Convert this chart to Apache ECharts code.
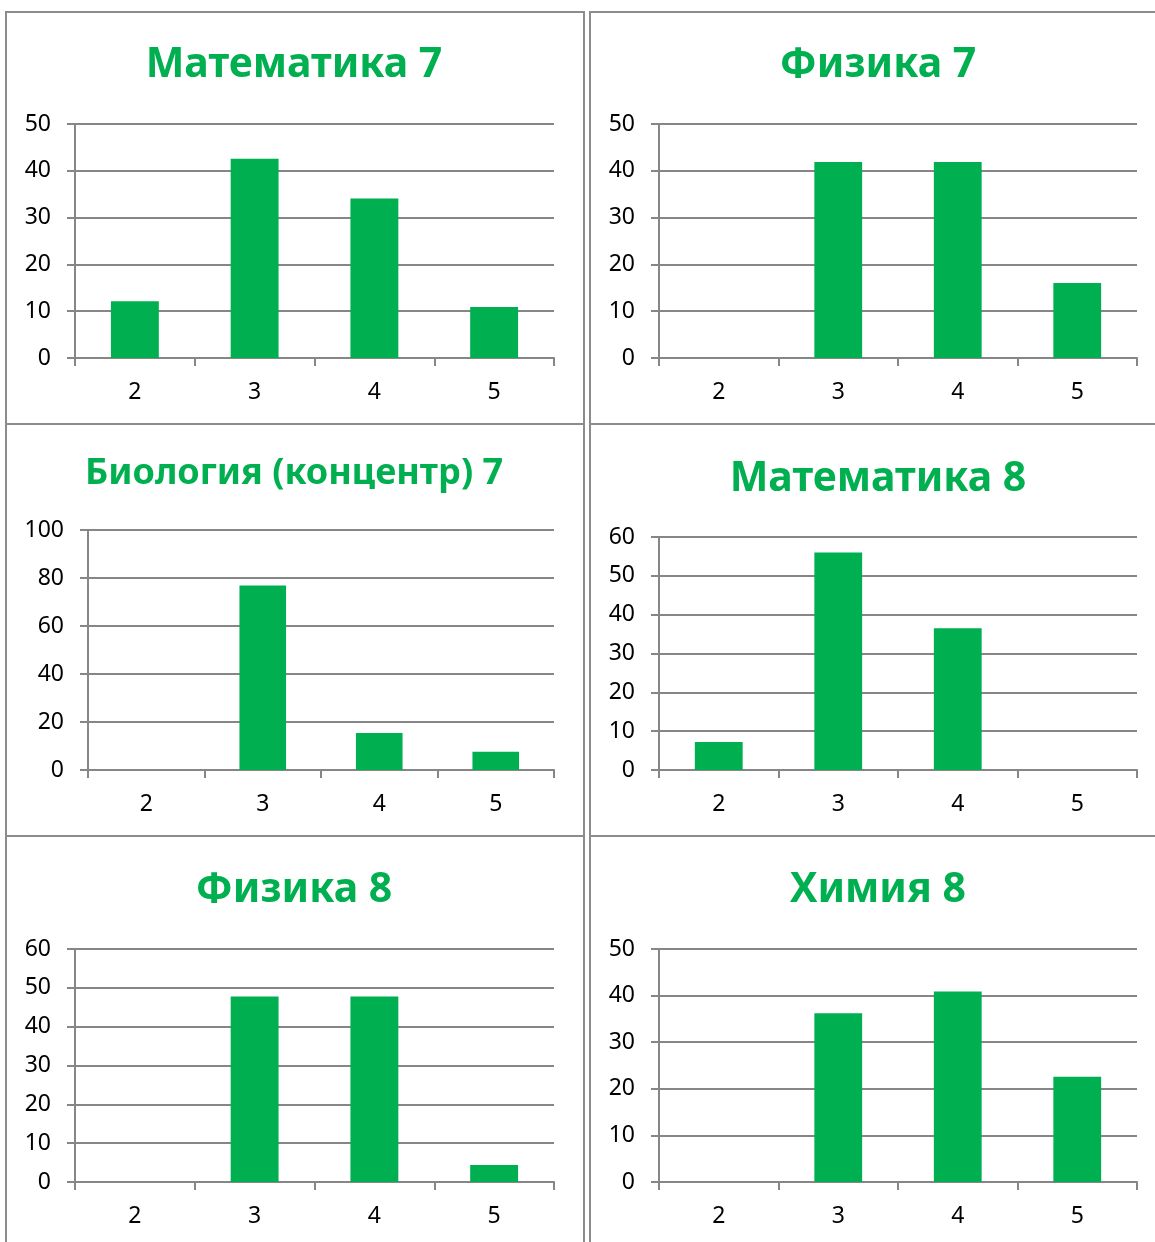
<!DOCTYPE html>
<html>
<head>
<meta charset="utf-8">
<script src="https://cdn.jsdelivr.net/npm/echarts@6/dist/echarts.min.js"></script>
<style>
  html, body { margin: 0; padding: 0; background: #fff; overflow: hidden; }
  body { width: 1155px; height: 1242px; position: relative; }
  .frame { position: absolute; box-sizing: border-box; border: 2px solid #8c8c8c; }
  .chart { position: absolute; }
</style>
</head>
<body>
<div id="root"></div>
<script>
// оценки
const grades = ['2', '3', '4', '5']

// названия диаграмм
const titles = [
  'Математика 7',
  'Физика 7',
  'Биология (концентр) 7',
  'Математика 8',
  'Физика 8',
  'Химия 8'
]

// значения по оценкам 2..5
const math7 = [12.1, 42.6, 34.1, 10.9]
const phys7 = [0, 41.9, 41.9, 16.0]
const bio7 = [0, 76.9, 15.4, 7.6]
const math8 = [7.2, 56.0, 36.5, 0]
const phys8 = [0, 47.8, 47.8, 4.4]
const chem8 = [0, 36.2, 40.9, 22.6]

// шкалы по оси Y
const yMax = [50, 50, 100, 60, 60, 50]
const yStep = [10, 10, 20, 10, 10, 10]

const values = [math7, phys7, bio7, math8, phys8, chem8]

const green = '#00af50'
const gray = '#868686'

// панели: положение рамки и области графика
const panels = [
  { x: 5,   y: 12,  grid: { left: 70, top: 112, width: 479, height: 234 }, titleTop: 28, titleSize: 41 },
  { x: 589, y: 12,  grid: { left: 70, top: 112, width: 478, height: 234 }, titleTop: 28, titleSize: 41 },
  { x: 5,   y: 424, grid: { left: 83, top: 106, width: 466, height: 240 }, titleTop: 27, titleSize: 36 },
  { x: 589, y: 424, grid: { left: 70, top: 113, width: 478, height: 233 }, titleTop: 30, titleSize: 41 },
  { x: 5,   y: 836, grid: { left: 70, top: 113, width: 479, height: 233 }, titleTop: 29, titleSize: 41 },
  { x: 589, y: 836, grid: { left: 70, top: 113, width: 478, height: 233 }, titleTop: 29, titleSize: 41 }
]

const root = document.getElementById('root')

panels.forEach((p, i) => {
  let frame = document.createElement('div')
  frame.className = 'frame'
  frame.style.left = p.x + 'px'
  frame.style.top = (p.y - 1) + 'px'
  frame.style.width = '580px'
  frame.style.height = '414px'
  root.appendChild(frame)

  let dom = document.createElement('div')
  dom.className = 'chart'
  dom.style.left = p.x + 'px'
  dom.style.top = p.y + 'px'
  dom.style.width = '578px'
  dom.style.height = '412px'
  root.appendChild(dom)

  let chart = echarts.init(dom)
  chart.setOption({
    animation: false,
    title: {
      text: titles[i],
      left: 'center',
      top: p.titleTop,
      textStyle: {
        color: green,
        fontFamily: 'Noto Sans',
        fontWeight: 'bold',
        fontSize: p.titleSize
      }
    },
    grid: p.grid,
    xAxis: {
      type: 'category',
      data: grades,
      axisLine: { lineStyle: { color: gray, width: 2 } },
      axisTick: { show: true, length: 8, interval: 0, lineStyle: { color: gray, width: 2 } },
      axisLabel: { color: '#000', fontFamily: 'Noto Sans', fontSize: 23, margin: 23 }
    },
    yAxis: {
      type: 'value',
      min: 0,
      max: yMax[i],
      interval: yStep[i],
      axisLine: { show: true, lineStyle: { color: gray, width: 2 } },
      axisTick: { show: true, length: 8, lineStyle: { color: gray, width: 2 } },
      axisLabel: { color: '#000', fontFamily: 'Noto Sans', fontSize: 23, margin: 24 },
      splitLine: { lineStyle: { color: gray, width: 2 } }
    },
    series: [
      {
        type: 'bar',
        data: values[i],
        barWidth: '40%',
        itemStyle: { color: green }
      }
    ]
  })
})
</script>
</body>
</html>
